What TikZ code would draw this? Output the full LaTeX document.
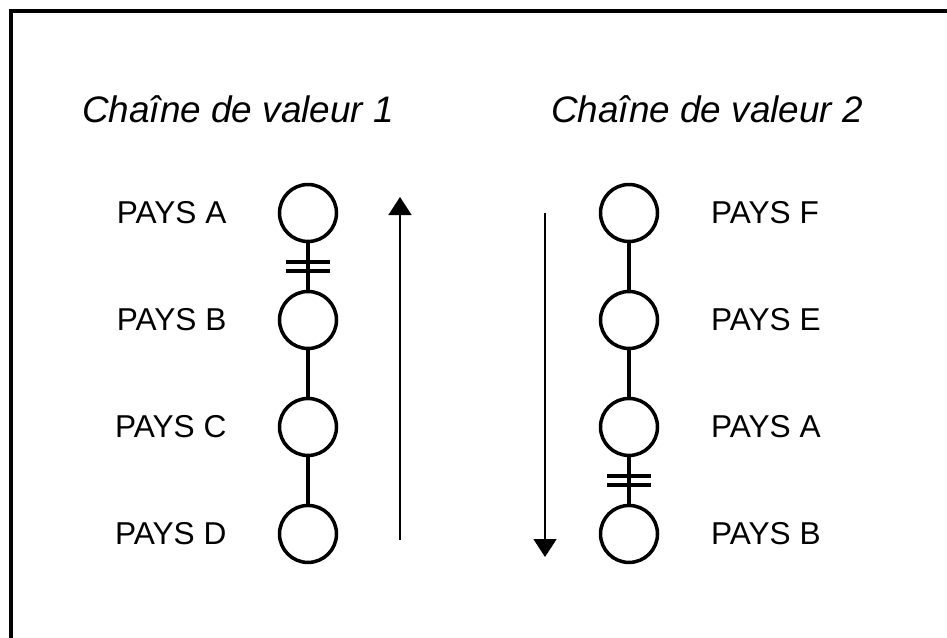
\documentclass[tikz,border=0pt]{standalone}
\usepackage{fontspec}
\setmainfont{Liberation Sans}
\usetikzlibrary{positioning, calc, arrows.meta}
\tikzset{
x=0.02cm, y=-0.02cm, % one unit per pixel, y pointing down
node distance=2.14cm, % spacing of the links in a chain
pays/.style={circle, draw, line width=2pt, minimum size=1.14cm, inner sep=0pt}, % a country in the chain
link/.style={line width=2pt}, % segment between two countries
flow/.style={line width=0.9pt, -{Triangle[width=0.46cm, length=0.36cm]}}, % direction of the chain
label/.style={font=\fontsize{18}{21}\selectfont, inner sep=0pt}, % country names
titre/.style={font=\fontsize{21}{25}\itshape\selectfont, inner sep=0pt, anchor=base}, % chain titles
}

\begin{document}
\begin{tikzpicture}
                \clip (0,0) rectangle (947,637);
                \useasboundingbox (0,0) rectangle (947,637);
                \draw[line width=2pt] (11,11) rectangle (990,690);

                \node[titre] (t1) at (238,122) {Chaîne de valeur 1};
                \node[titre] (t2) at (707,122) {Chaîne de valeur 2};

                % first chain
                \node[pays] (c1a) at (308,213) {};
                \node[pays, below of=c1a] (c1b) {};
                \node[pays, below of=c1b] (c1c) {};
                \node[pays, below of=c1c] (c1d) {};

                \node[label, left=1.02cm of c1a] (l1a) {PAYS A};
                \node[label, left=1.02cm of c1b] (l1b) {PAYS B};
                \node[label, left=1.02cm of c1c] (l1c) {PAYS C};
                \node[label, left=1.02cm of c1d] (l1d) {PAYS D};

                % second chain
                \node[pays] (c2f) at (629,213) {};
                \node[pays, below of=c2f] (c2e) {};
                \node[pays, below of=c2e] (c2a) {};
                \node[pays, below of=c2a] (c2b) {};

                \node[label, right=1.03cm of c2f] (l2f) {PAYS F};
                \node[label, right=1.03cm of c2e] (l2e) {PAYS E};
                \node[label, right=1.03cm of c2a] (l2a) {PAYS A};
                \node[label, right=1.03cm of c2b] (l2b) {PAYS B};

                \draw[link]
                    (c1a) -- coordinate (cut1) (c1b)
                    (c1b) -- (c1c)
                    (c1c) -- (c1d)
                    %
                    (c2f) -- (c2e)
                    (c2e) -- (c2a)
                    (c2a) -- coordinate (cut2) (c2b)
                    ;
                % breaks in the chains
                \draw[link]
                    ($(cut1)+(-22,-4.5)$) -- ++(44,0)
                    ($(cut1)+(-22,4.5)$) -- ++(44,0)
                    ($(cut2)+(-22,-4.5)$) -- ++(44,0)
                    ($(cut2)+(-22,4.5)$) -- ++(44,0)
                    ;

                % direction arrows
                \coordinate (up0) at (400,540);
                \coordinate (up1) at (400,197);
                \coordinate (dn0) at (545,213);
                \coordinate (dn1) at (545,557);
                \draw[flow] (up0) -- (up1);
                \draw[flow] (dn0) -- (dn1);
                \end{tikzpicture}
\end{document}
